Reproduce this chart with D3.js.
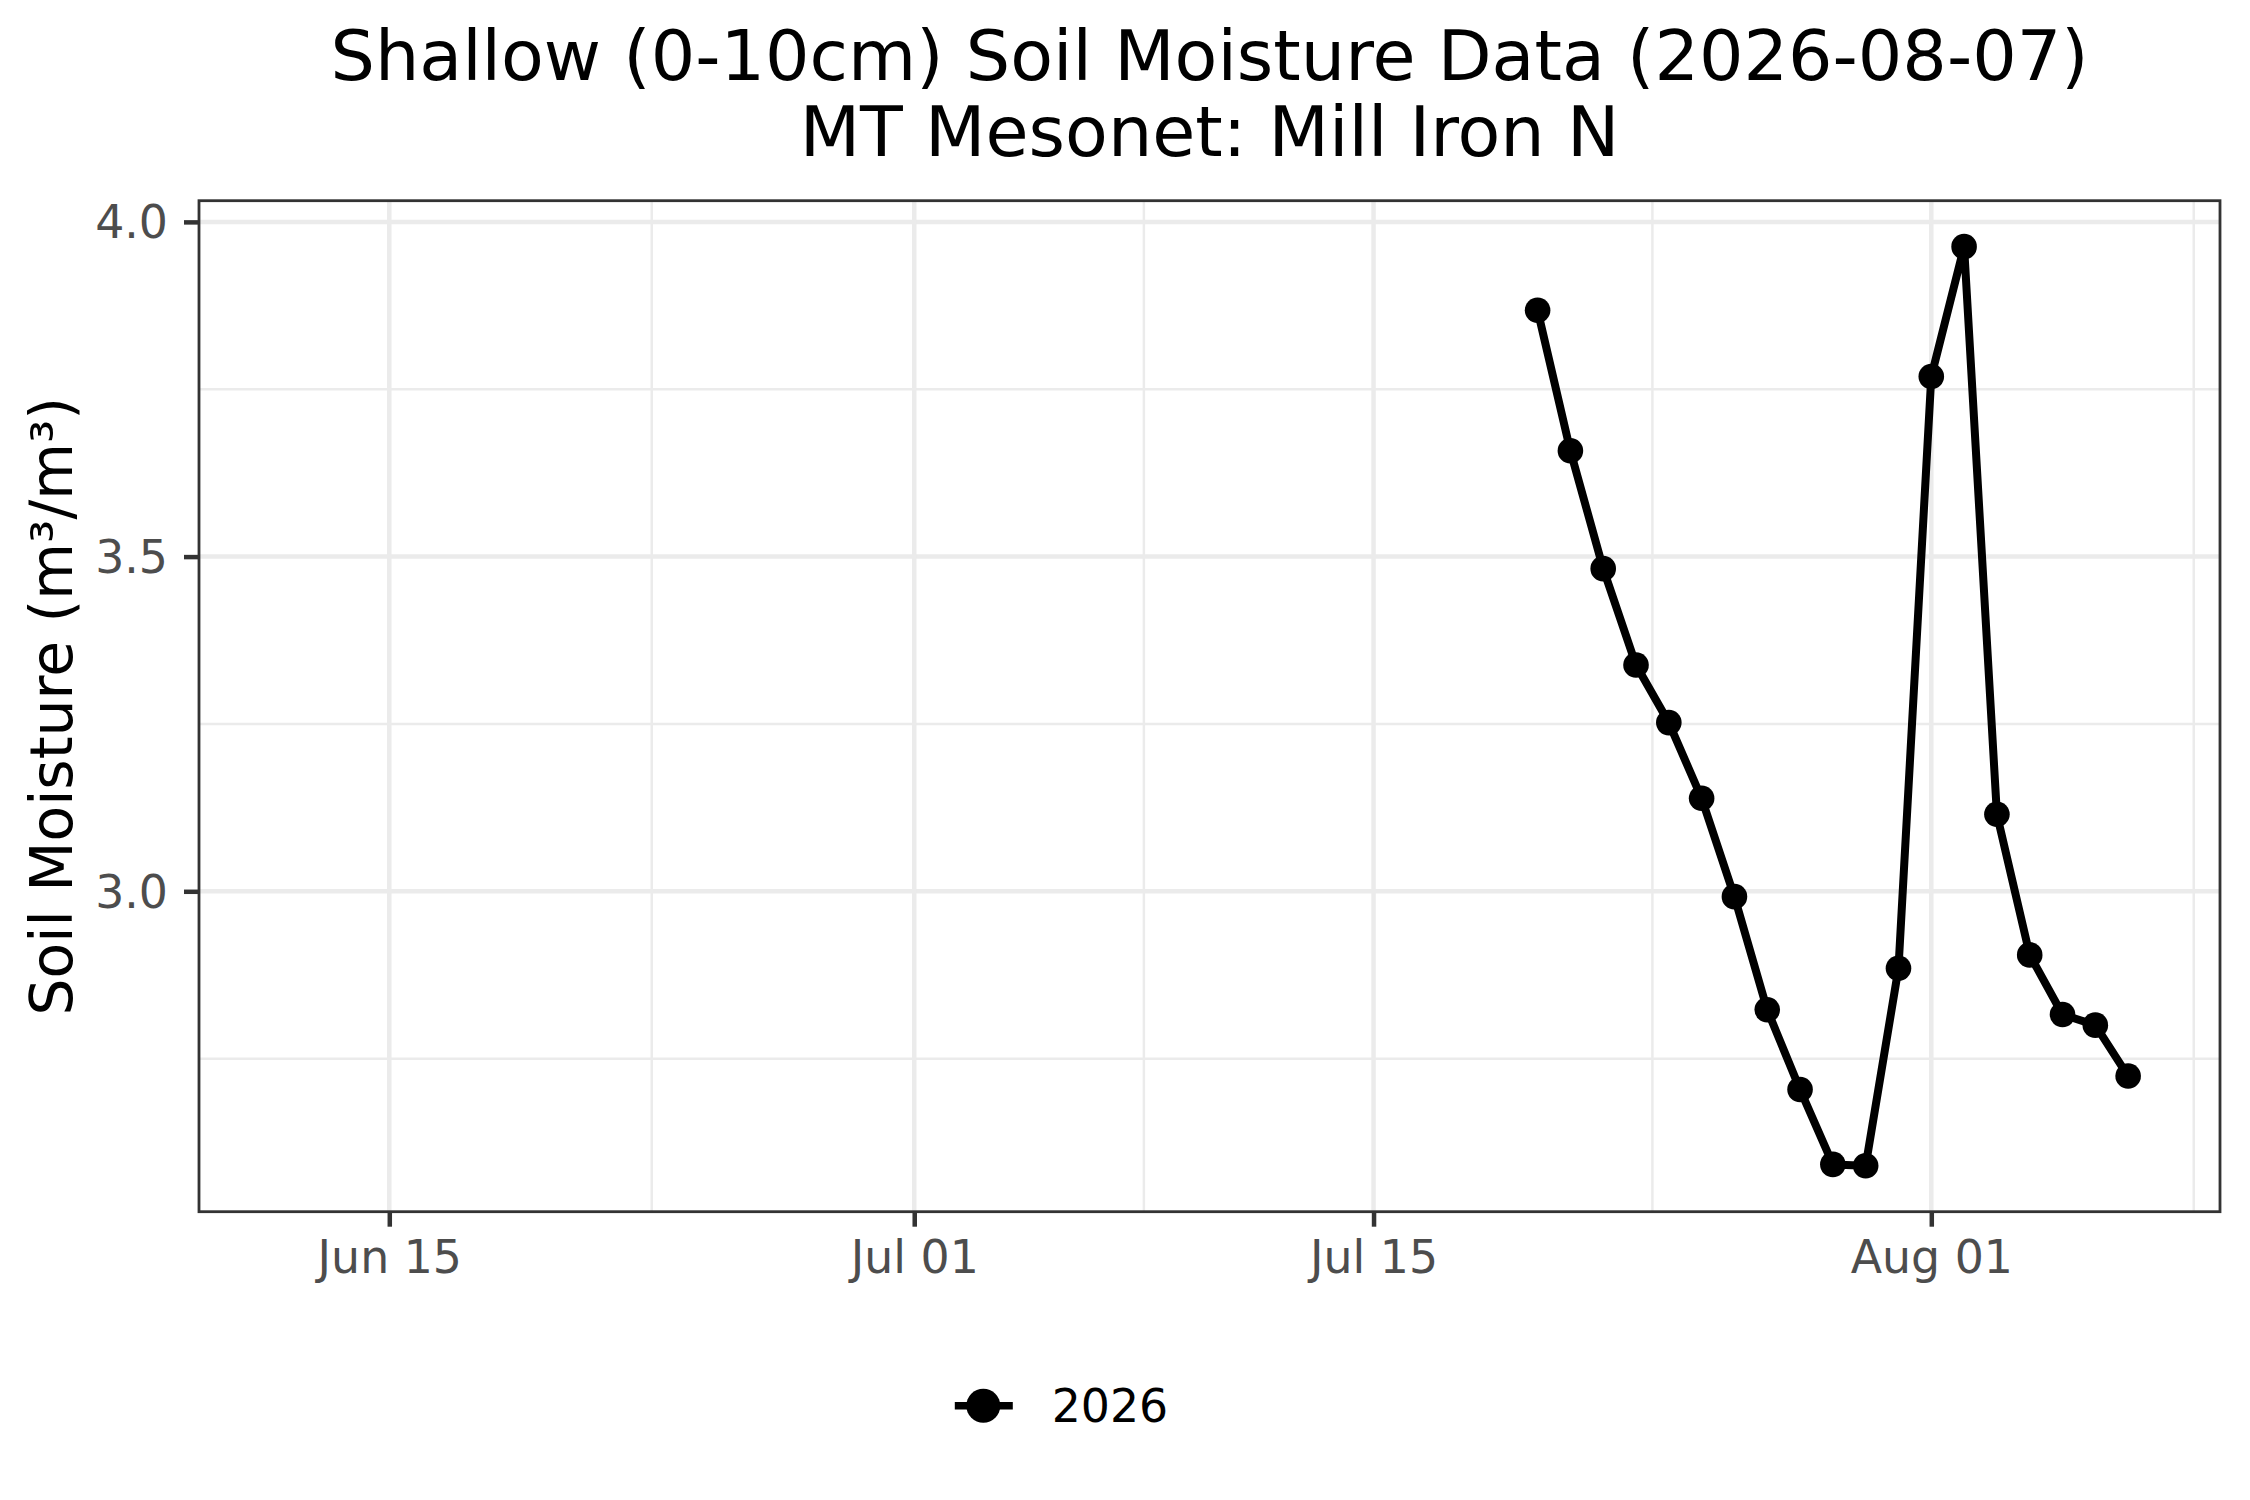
<!DOCTYPE html>
<html>
<head>
<meta charset="utf-8">
<script src="https://cdn.jsdelivr.net/npm/d3@7"></script>
<style>
  body { margin: 0; background: #fff; }
  svg { display: block; font-family: "DejaVu Sans", sans-serif; }
</style>
</head>
<body>
<svg id="chart"></svg>
<script>
// data
const dates = ["2026-07-20", "2026-07-21", "2026-07-22", "2026-07-23", "2026-07-24",
  "2026-07-25", "2026-07-26", "2026-07-27", "2026-07-28", "2026-07-29", "2026-07-30",
  "2026-07-31", "2026-08-01", "2026-08-02", "2026-08-03", "2026-08-04", "2026-08-05",
  "2026-08-06", "2026-08-07"];
const moisture = [3.868, 3.658, 3.482, 3.338, 3.252, 3.139, 2.992, 2.823, 2.704, 2.592,
  2.590, 2.885, 3.769, 3.963, 3.115, 2.905, 2.816, 2.800, 2.724];
const seriesName = "2026";
const xLimits = ["2026-06-12", "2026-08-07"];
const xTicks = ["2026-06-15", "2026-07-01", "2026-07-15", "2026-08-01"];
const yTicks = [3.0, 3.5, 4.0];
const yMinor = [2.75, 3.25, 3.75];
const titleLines = ["Shallow (0-10cm) Soil Moisture Data (2026-08-07)", "MT Mesonet: Mill Iron N"];
const yTitle = "Soil Moisture (m³/m³)";

const width = 2250, height = 1500;
const panelLeft = 199, panelRight = 2220, panelTop = 200.7, panelBottom = 1211.7;
const parse = d3.utcParse("%Y-%m-%d");

let points = dates.map((d, i) => ({ date: parse(d), value: moisture[i] }));

// ggplot style 5% expansion
let lim = xLimits.map(parse);
let xExp = (lim[1] - lim[0]) * 0.05;
let x = d3.scaleUtc()
  .domain([new Date(+lim[0] - xExp), new Date(+lim[1] + xExp)])
  .range([panelLeft, panelRight]);

let ext = d3.extent(moisture);
let yExp = (ext[1] - ext[0]) * 0.05;
let y = d3.scaleLinear()
  .domain([ext[0] - yExp, ext[1] + yExp])
  .range([panelBottom, panelTop]);

// minor date breaks: midpoints, extended one step on each side
let major = xTicks.map(parse);
let step = major[1] - major[0];
let extMajor = [new Date(+major[0] - step), ...major, new Date(+major[major.length - 1] + step)];
let xMinor = [];
for (let i = 0; i < extMajor.length - 1; i++) {
  let m = new Date((+extMajor[i] + +extMajor[i + 1]) / 2);
  if (m >= x.domain()[0] && m <= x.domain()[1]) xMinor.push(m);
}

let svg = d3.select("#chart").attr("width", width).attr("height", height);

svg.append("rect").attr("width", width).attr("height", height).attr("fill", "#fff");

// grid
let grid = svg.append("g");
grid.selectAll(".ymin").data(yMinor).enter().append("line")
  .attr("x1", panelLeft).attr("x2", panelRight)
  .attr("y1", d => y(d)).attr("y2", d => y(d))
  .attr("stroke", "#EBEBEB").attr("stroke-width", 2.5);
grid.selectAll(".xmin").data(xMinor).enter().append("line")
  .attr("y1", panelTop).attr("y2", panelBottom)
  .attr("x1", d => x(d)).attr("x2", d => x(d))
  .attr("stroke", "#EBEBEB").attr("stroke-width", 2.5);
grid.selectAll(".ymaj").data(yTicks).enter().append("line")
  .attr("x1", panelLeft).attr("x2", panelRight)
  .attr("y1", d => y(d)).attr("y2", d => y(d))
  .attr("stroke", "#EBEBEB").attr("stroke-width", 4.5);
grid.selectAll(".xmaj").data(major).enter().append("line")
  .attr("y1", panelTop).attr("y2", panelBottom)
  .attr("x1", d => x(d)).attr("x2", d => x(d))
  .attr("stroke", "#EBEBEB").attr("stroke-width", 4.5);

// series
let line = d3.line().x(d => x(d.date)).y(d => y(d.value));
svg.append("path").datum(points)
  .attr("d", line)
  .attr("fill", "none")
  .attr("stroke", "#000")
  .attr("stroke-width", 8)
  .attr("stroke-linejoin", "round");
svg.selectAll(".dot").data(points).enter().append("circle")
  .attr("cx", d => x(d.date))
  .attr("cy", d => y(d.value))
  .attr("r", 12.8)
  .attr("fill", "#000");

// panel border
svg.append("rect")
  .attr("x", panelLeft).attr("y", panelTop)
  .attr("width", panelRight - panelLeft).attr("height", panelBottom - panelTop)
  .attr("fill", "none").attr("stroke", "#333333").attr("stroke-width", 2.8);

// axes
let axisX = d3.axisBottom(x).tickValues(major)
  .tickFormat(d3.utcFormat("%b %d")).tickSize(15).tickPadding(14);
let gx = svg.append("g").attr("transform", `translate(0, ${panelBottom})`).call(axisX);

let axisY = d3.axisLeft(y).tickValues(yTicks)
  .tickFormat(d3.format(".1f")).tickSize(15).tickPadding(16);
let gy = svg.append("g").attr("transform", `translate(${panelLeft}, 0)`).call(axisY);

[gx, gy].forEach(g => {
  g.select(".domain").remove();
  g.selectAll(".tick line").attr("stroke", "#333333").attr("stroke-width", 4.5);
  g.selectAll(".tick text")
    .attr("fill", "#4D4D4D")
    .style("font-family", "DejaVu Sans")
    .style("font-size", "45.8px");
});
gy.selectAll(".tick text").attr("dy", "0.35em");

// titles
svg.append("text")
  .attr("text-anchor", "middle")
  .style("font-size", "70px")
  .attr("fill", "#000")
  .selectAll("tspan").data(titleLines).enter().append("tspan")
  .attr("x", (panelLeft + panelRight) / 2)
  .attr("y", (d, i) => 80 + i * 76)
  .text(d => d);

svg.append("text")
  .attr("transform", `translate(72, ${(panelTop + panelBottom) / 2}) rotate(-90)`)
  .attr("text-anchor", "middle")
  .style("font-size", "58.3px")
  .attr("fill", "#000")
  .text(yTitle);

// legend
let legend = svg.append("g").attr("transform", "translate(983.3, 1405.7)");
legend.append("line")
  .attr("x1", -28.5).attr("x2", 29.5)
  .attr("stroke", "#000").attr("stroke-width", 7.5);
legend.append("circle").attr("r", 17).attr("fill", "#000");
legend.append("text")
  .attr("x", 68.4).attr("y", 16.6)
  .style("font-size", "45.8px")
  .attr("fill", "#000")
  .text(seriesName);
</script>
</body>
</html>
